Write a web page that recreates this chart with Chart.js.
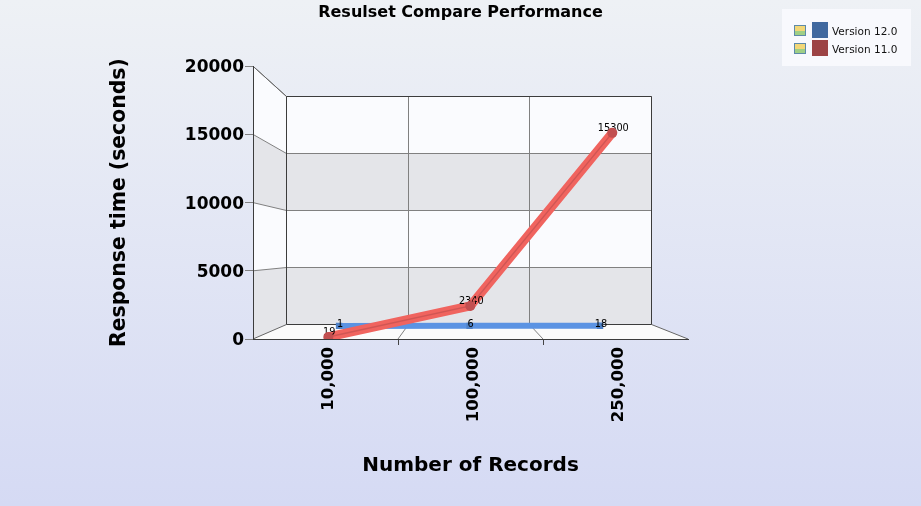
<!DOCTYPE html>
<html>
<head>
<meta charset="utf-8">
<style>
  html, body { margin: 0; padding: 0; width: 921px; height: 506px; overflow: hidden;
    background: linear-gradient(#eef1f5, #d5daf4); }
  canvas { display: block; }
</style>
<script src="https://cdn.jsdelivr.net/npm/chart.js@4/dist/chart.umd.min.js"></script>
</head>
<body>
<canvas id="chart" width="921" height="506"></canvas>
<script>
// data
var categories = ['10,000', '100,000', '250,000'];
var version12 = [1, 6, 18];
var version11 = [19, 2340, 15300];
var yTicks = [0, 5000, 10000, 15000, 20000];
var legendNames = ['Version 12.0', 'Version 11.0'];
var legendColors = ['#41699f', '#9c4345'];

var FONT = '"DejaVu Sans"';
var YMAX = 20000;

// fake 3d: depth 0 = front edge, depth 1 = back wall (fractions of the plot box)
function xRange(d) {
    var a = 0.0759 * d, b = 1 - 0.0828 * d, u = 3 / (b - a);
    return { min: -0.5 - a * u, max: 2.5 + (1 - b) * u };
}
function yRange(d) {
    var a = 0.0515 * d, b = 1 - 0.1103 * d, u = YMAX / (b - a);
    return { min: -a * u, max: YMAX + (1 - b) * u };
}
function hidden(r) {
    return { type: 'linear', display: false, min: r.min, max: r.max };
}
function pts(vals) {
    return vals.map(function (v, i) { return { x: i, y: v }; });
}
function crisp(v) {
    return Math.round(v - 0.5) + 0.5;
}

var walls = {
    id: 'walls',
    beforeDraw: function (chart) {
        var c = chart.ctx, s = chart.scales, ca = chart.chartArea;
        var bx = s.xBack, by = s.yBack;
        var xl = crisp(bx.getPixelForValue(-0.5)), xr = crisp(bx.getPixelForValue(2.5));
        var yb = crisp(by.getPixelForValue(0)), yt = crisp(by.getPixelForValue(YMAX));
        var i, y0, y1, b0, b1;
        c.save();
        // floor
        c.fillStyle = '#fbfbfb';
        c.beginPath();
        c.moveTo(ca.left, ca.bottom); c.lineTo(ca.right, ca.bottom);
        c.lineTo(xr, yb); c.lineTo(xl, yb);
        c.closePath(); c.fill();
        // wall bands
        for (i = 0; i < yTicks.length - 1; i++) {
            y0 = s.y.getPixelForValue(yTicks[i]); y1 = s.y.getPixelForValue(yTicks[i + 1]);
            b0 = crisp(by.getPixelForValue(yTicks[i])); b1 = crisp(by.getPixelForValue(yTicks[i + 1]));
            c.fillStyle = i % 2 ? '#fafbfe' : '#e4e5e9';
            c.fillRect(xl, b1, xr - xl, b0 - b1);
            c.beginPath();
            c.moveTo(ca.left, y0); c.lineTo(xl, b0); c.lineTo(xl, b1); c.lineTo(ca.left, y1);
            c.closePath(); c.fill();
        }
        // grid lines
        c.lineWidth = 1;
        c.strokeStyle = '#808080';
        for (i = 1; i < yTicks.length; i++) {
            b0 = crisp(by.getPixelForValue(yTicks[i]));
            c.beginPath();
            c.moveTo(ca.left, s.y.getPixelForValue(yTicks[i]));
            c.lineTo(xl, b0);
            c.lineTo(xr, b0);
            c.stroke();
        }
        for (i = 0; i < categories.length - 1; i++) {
            var gx = crisp(bx.getPixelForValue(i + 0.5));
            var fx = ca.left + (ca.right - ca.left) * (i + 1) / categories.length;
            c.beginPath();
            c.moveTo(gx, yt);
            c.lineTo(gx, yb);
            c.lineTo(fx, ca.bottom);
            c.stroke();
        }
        // outline of the box
        c.beginPath();
        c.moveTo(ca.left, ca.top); c.lineTo(xl, yt);
        c.moveTo(ca.left, ca.bottom); c.lineTo(xl, yb);
        c.moveTo(xr, yb); c.lineTo(ca.right, ca.bottom);
        c.strokeStyle = '#666';
        c.stroke();
        c.strokeStyle = '#3c3c3c';
        c.beginPath();
        c.moveTo(xl, yb); c.lineTo(xl, yt); c.lineTo(xr, yt); c.lineTo(xr, yb); c.lineTo(xl, yb);
        c.stroke();
        c.restore();
    }
};

// drawn just before the red markers so these sit on top of the text, as in the original
var valueLabels = {
    id: 'valueLabels',
    beforeDatasetDraw: function (chart, args) {
        if (args.index !== 0) return;
        var c = chart.ctx;
        c.save();
        c.font = '9.75px ' + FONT;
        c.fillStyle = '#000';
        c.textAlign = 'center';
        c.textBaseline = 'middle';
        [[2, version12, 1], [0, version11, 4]].forEach(function (r) {
            chart.getDatasetMeta(r[0]).data.forEach(function (p, i) {
                c.fillText(r[1][i], p.x + 1, p.y - r[2]);
            });
        });
        c.restore();
    }
};

var legendBox = {
    id: 'legendBox',
    afterDraw: function (chart) {
        var c = chart.ctx;
        c.save();
        c.fillStyle = '#f8f9fd';
        c.fillRect(782, 9, 129, 57);
        c.font = '10.5px ' + FONT;
        c.textBaseline = 'middle';
        legendNames.forEach(function (name, i) {
            var y = 22 + i * 18;
            // little picture icon in front of every entry
            c.fillStyle = '#f2d777'; c.fillRect(794, y + 3, 12, 11);
            c.fillStyle = '#9fcf86'; c.fillRect(794, y + 9, 12, 5);
            c.strokeStyle = '#5d8aa8'; c.lineWidth = 1; c.strokeRect(794.5, y + 3.5, 11, 10);
            c.fillStyle = legendColors[i]; c.fillRect(812, y, 16, 16);
            c.fillStyle = '#111';
            c.fillText(name, 832, y + 10);
        });
        c.restore();
    }
};

// the title centres on the whole window, not on the padded box
var centreTitle = {
    id: 'centreTitle',
    afterLayout: function (chart) {
        chart.titleBlock.left = 0;
        chart.titleBlock.right = chart.width;
    }
};

new Chart(document.getElementById('chart'), {
    type: 'line',
    data: {
        labels: categories,
        datasets: [
            // red ribbon: dark centre line and markers on top of the wide band
            { label: legendNames[1], data: pts(version11), xAxisID: 'xRed', yAxisID: 'yRed',
              borderColor: '#d05654', borderWidth: 1.5, tension: 0, fill: false,
              pointRadius: 5, pointBackgroundColor: '#c24f50', pointBorderWidth: 0 },
            { label: legendNames[1], data: pts(version11), xAxisID: 'xRed', yAxisID: 'yRed',
              borderColor: '#f0645f', borderWidth: 9, borderCapStyle: 'butt', tension: 0, fill: false,
              pointRadius: 0 },
            // blue ribbon, sits behind the red one
            { label: legendNames[0], data: pts(version12), xAxisID: 'xBlue', yAxisID: 'yBlue',
              borderColor: '#5b93e3', borderWidth: 6, borderCapStyle: 'butt', tension: 0, fill: false,
              pointStyle: 'rect', pointRadius: 4.5, pointBackgroundColor: '#4f82c8', pointBorderWidth: 0 }
        ]
    },
    options: {
        responsive: false,
        animation: false,
        layout: { padding: { left: 100, right: 233, top: 0, bottom: 0 } },
        plugins: {
            legend: { display: false },
            tooltip: { enabled: false },
            title: { display: true, text: 'Resulset Compare Performance', color: '#000',
                     font: { family: FONT, size: 16, weight: 'bold', lineHeight: 1.2 },
                     padding: { top: 3, bottom: 44 } }
        },
        scales: {
            x: {
                type: 'category',
                offset: true,
                labels: categories,
                border: { display: true, color: '#3c3c3c' },
                grid: { offset: true, drawOnChartArea: false, drawTicks: true, tickLength: 6,
                        tickColor: function (ctx) { return ctx.index === 1 || ctx.index === 2 ? '#444' : 'rgba(0,0,0,0)'; } },
                ticks: { color: '#000', font: { family: FONT, size: 16.5, weight: 'bold' },
                         minRotation: 90, maxRotation: 90, autoSkip: false, padding: 2, labelOffset: 3.5 },
                title: { display: true, text: 'Number of Records', color: '#000',
                         font: { family: FONT, size: 20, weight: 'bold' }, padding: { top: 20, bottom: 28 } },
                afterFit: function (scale) { scale.height = 167; }
            },
            y: {
                type: 'linear',
                min: 0,
                max: YMAX,
                border: { display: true, color: '#3c3c3c' },
                grid: { drawOnChartArea: false, drawTicks: true, tickLength: 8, tickColor: '#808080' },
                afterBuildTicks: function (scale) {
                    scale.ticks = yTicks.map(function (v) { return { value: v }; });
                },
                ticks: { color: '#000', padding: 1, labelOffset: 1.5,
                         font: { family: FONT, size: 17, weight: 'bold' },
                         callback: function (v) { return String(v); } },
                title: { display: true, text: 'Response time (seconds)', color: '#000',
                         font: { family: FONT, size: 20.4, weight: 'bold' }, padding: { top: 7, bottom: 40 } },
                afterFit: function (scale) { scale.width = 153; }
            },
            xRed: hidden(xRange(0.13)),
            yRed: hidden(yRange(0.13)),
            xBlue: hidden(xRange(0.63)),
            yBlue: hidden(yRange(0.93)),
            xBack: hidden(xRange(1)),
            yBack: hidden(yRange(1))
        }
    },
    plugins: [walls, valueLabels, legendBox, centreTitle]
});
</script>
</body>
</html>
